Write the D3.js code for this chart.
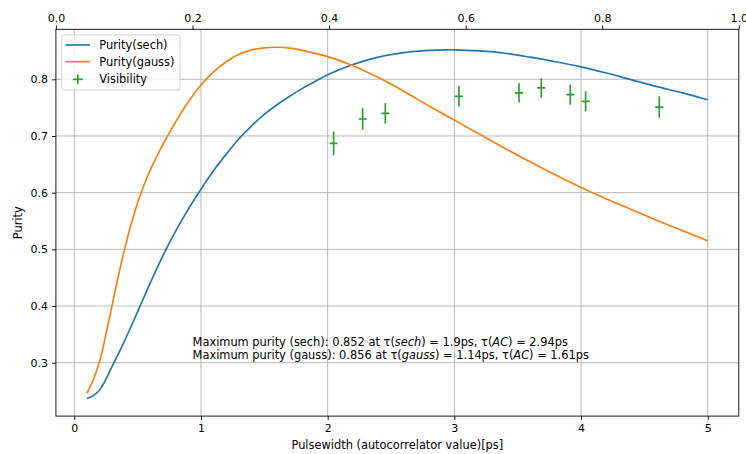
<!DOCTYPE html>
<html><head><meta charset="utf-8">
<script src="https://cdn.jsdelivr.net/npm/d3@7"></script>
<style>
body{margin:0;background:#fff;}
text{font-family:"DejaVu Sans",sans-serif;}
</style></head>
<body>
<svg id="chart" width="746" height="454"></svg>
<script>
// ---- data ----
const sechX = [0.1,0.15,0.2,0.25,0.3,0.4,0.5,0.6,0.7,0.8,0.9,1.0,1.1,1.2,1.3,1.4,1.5,1.6,1.7,1.8,1.9,2.0,2.2,2.4,2.6,2.8,2.94,3.0,3.2,3.4,3.6,3.8,4.0,4.2,4.4,4.6,4.8,5.0];
const sechY = [0.237,0.242,0.252,0.271,0.294,0.340,0.390,0.441,0.489,0.532,0.571,0.606,0.639,0.668,0.695,0.718,0.738,0.755,0.770,0.784,0.796,0.808,0.826,0.839,0.847,0.851,0.852,0.852,0.850,0.846,0.839,0.831,0.822,0.811,0.799,0.787,0.776,0.764];
const gaussX = [0.1,0.15,0.2,0.25,0.3,0.35,0.4,0.45,0.5,0.55,0.6,0.7,0.8,0.9,1.0,1.1,1.2,1.3,1.4,1.5,1.6,1.7,1.8,2.0,2.2,2.4,2.6,2.8,3.0,3.2,3.4,3.6,3.8,4.0,4.2,4.4,4.6,4.8,5.0];
const gaussY = [0.246,0.270,0.302,0.350,0.403,0.455,0.503,0.545,0.582,0.613,0.640,0.685,0.725,0.760,0.790,0.813,0.831,0.844,0.852,0.8555,0.8565,0.855,0.851,0.840,0.824,0.803,0.779,0.753,0.728,0.703,0.678,0.654,0.631,0.609,0.589,0.570,0.551,0.533,0.515];
const visX = [2.047,2.276,2.455,3.036,3.510,3.686,3.915,4.036,4.617];
const visY = [0.687,0.730,0.740,0.770,0.776,0.785,0.773,0.761,0.751];
const visErr = [0.021,0.019,0.018,0.018,0.017,0.017,0.018,0.018,0.019];
const xTicks = [0,1,2,3,4,5];
const yTicks = [0.3,0.4,0.5,0.6,0.7,0.8];
const topTicks = [0,0.2,0.4,0.6,0.8,1.0];
const legendLabels = ["Purity(sech)","Purity(gauss)","Visibility"];
const note1 = {pre:"Maximum purity (sech): 0.852 at τ(", it:"sech", post:") = 1.9ps, τ(", it2:"AC", post2:") = 2.94ps"};
const note2 = {pre:"Maximum purity (gauss): 0.856 at τ(", it:"gauss", post:") = 1.14ps, τ(", it2:"AC", post2:") = 1.61ps"};

// ---- layout ----
const L = 55.9, R = 738.8, T = 29.3, B = 416.1;
const FS = 11, FS2 = 11.4;
const C = {sech:"#1f77b4", gauss:"#ff7f0e", vis:"#2ca02c"};
const svg = d3.select("#chart");

const x = d3.scaleLinear().domain([-0.145, 5.245]).range([L, R]);
const y = d3.scaleLinear().domain([0.2058, 0.8882]).range([B, T]);
const xTop = d3.scaleLinear().domain([0, 1]).range([L, R]);

// grid
const g = svg.append("g");
g.selectAll(".vg").data(xTicks).join("line")
  .attr("x1", d => x(d)).attr("x2", d => x(d)).attr("y1", T).attr("y2", B)
  .attr("stroke", "#b0b0b0").attr("stroke-width", 0.9);
g.selectAll(".hg").data(yTicks).join("line")
  .attr("x1", L).attr("x2", R).attr("y1", d => y(d)).attr("y2", d => y(d))
  .attr("stroke", "#b0b0b0").attr("stroke-width", 0.9);

// curves
const line = d3.line().x(d => x(d[0])).y(d => y(d[1])).curve(d3.curveCatmullRom.alpha(0.5));
svg.append("clipPath").attr("id","clip").append("rect").attr("x",L).attr("y",T).attr("width",R-L).attr("height",B-T);
const plot = svg.append("g").attr("clip-path","url(#clip)");
plot.append("path").datum(sechX.map((v,i)=>[v,sechY[i]])).attr("d", line)
  .attr("fill","none").attr("stroke",C.sech).attr("stroke-width",1.67);
plot.append("path").datum(gaussX.map((v,i)=>[v,gaussY[i]])).attr("d", line)
  .attr("fill","none").attr("stroke",C.gauss).attr("stroke-width",1.67);

// error bars
const vis = visX.map((v,i)=>({x:v,y:visY[i],e:visErr[i]}));
const eb = plot.append("g").attr("stroke",C.vis).attr("stroke-width",1.67);
eb.selectAll(".ev").data(vis).join("line")
  .attr("x1",d=>x(d.x)).attr("x2",d=>x(d.x)).attr("y1",d=>y(d.y-d.e)).attr("y2",d=>y(d.y+d.e));
eb.selectAll(".eh").data(vis).join("line")
  .attr("x1",d=>x(d.x)-4).attr("x2",d=>x(d.x)+4).attr("y1",d=>y(d.y)).attr("y2",d=>y(d.y));

// annotation text
function note(n, yy){
  const t = svg.append("text").attr("x", x(0.934)).attr("y", yy).attr("font-size", FS2).attr("fill","#000");
  t.append("tspan").text(n.pre);
  t.append("tspan").attr("font-style","italic").text(n.it);
  t.append("tspan").text(n.post);
  t.append("tspan").attr("font-style","italic").text(n.it2);
  t.append("tspan").text(n.post2);
}
note(note1, y(0.330));
note(note2, y(0.3066));

// axes
const ax = svg.append("g").attr("transform",`translate(0,${B})`)
  .call(d3.axisBottom(x).tickValues(xTicks).tickFormat(d3.format("d")).tickSizeOuter(0).tickSize(3.9).tickPadding(3.9));
const ay = svg.append("g").attr("transform",`translate(${L},0)`)
  .call(d3.axisLeft(y).tickValues(yTicks).tickFormat(d3.format(".1f")).tickSizeOuter(0).tickSize(3.9).tickPadding(3.9));
const at = svg.append("g").attr("transform",`translate(0,${T})`)
  .call(d3.axisTop(xTop).tickValues(topTicks).tickFormat(d3.format(".1f")).tickSizeOuter(0).tickSize(3.9).tickPadding(3.9));
[ax,ay,at].forEach(a=>{
  a.select(".domain").remove();
  a.selectAll("text").attr("font-size",FS).attr("font-family","DejaVu Sans").attr("fill","#000");
  a.selectAll("line").attr("stroke","#000").attr("stroke-width",0.9);
});
// spines
svg.append("rect").attr("x",L).attr("y",T).attr("width",R-L).attr("height",B-T)
  .attr("fill","none").attr("stroke","#000").attr("stroke-width",0.9);

// labels
svg.append("text").attr("x",(L+R)/2).attr("y",449).attr("text-anchor","middle").attr("font-size",FS2).text("Pulsewidth (autocorrelator value)[ps]");
svg.append("text").attr("transform",`translate(22,${(T+B)/2}) rotate(-90)`).attr("text-anchor","middle").attr("font-size",FS2).text("Purity");

// legend
const lg = svg.append("g");
lg.append("rect").attr("x",61.7).attr("y",35).attr("width",118.3).attr("height",55).attr("rx",2.5)
  .attr("fill","#fff").attr("fill-opacity",0.8).attr("stroke","#cccccc").attr("stroke-width",0.9);
const ly = [45,61.7,79.3];
const lc = [C.sech,C.gauss,C.vis];
legendLabels.forEach((lab,i)=>{
  if(i<2){
    lg.append("line").attr("x1",65.7).attr("x2",90).attr("y1",ly[i]).attr("y2",ly[i]).attr("stroke",lc[i]).attr("stroke-width",1.67);
  } else {
    lg.append("line").attr("x1",77.8).attr("x2",77.8).attr("y1",ly[i]-5).attr("y2",ly[i]+5).attr("stroke",lc[i]).attr("stroke-width",1.67);
    lg.append("line").attr("x1",72.8).attr("x2",82.8).attr("y1",ly[i]).attr("y2",ly[i]).attr("stroke",lc[i]).attr("stroke-width",1.67);
  }
  lg.append("text").attr("x",99.3).attr("y",ly[i]).attr("dy","0.35em").attr("font-size",FS2).text(lab);
});
</script>
</body></html>
